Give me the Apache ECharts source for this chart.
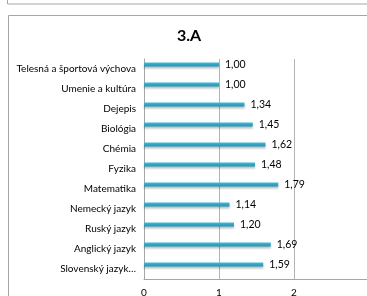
<!DOCTYPE html>
<html>
<head>
<meta charset="utf-8">
<script src="https://cdn.jsdelivr.net/npm/echarts@6/dist/echarts.min.js"></script>
<style>
  html, body { margin: 0; padding: 0; background: #fff; }
  #chart { width: 367px; height: 296px; }
</style>
</head>
<body>
<div id="chart"></div>
<script>
// predmety odspodu nahor (poradie kategórií v osi)
const subjects = ['Slovenský jazyk…', 'Anglický jazyk', 'Ruský jazyk', 'Nemecký jazyk', 'Matematika',
  'Fyzika', 'Chémia', 'Biológia', 'Dejepis', 'Umenie a kultúra', 'Telesná a športová výchova']
const grades = [1.59, 1.69, 1.20, 1.14, 1.79, 1.48, 1.62, 1.45, 1.34, 1.00, 1.00]
const xTicks = [0, 1, 2, 3]

const myChart = echarts.init(document.getElementById('chart'))
const font = 'Lato, "Open Sans", sans-serif'

const option = {
  animation: false,
  title: {
    text: '3.A',
    left: 184, top: 23, textAlign: 'center',
    textStyle: { fontFamily: font, fontSize: 16, fontWeight: 'bold', color: '#000' }
  },
  graphic: [
    // rámik predchádzajúceho grafu a rámik tohto grafu
    { type: 'rect', shape: { x: 7.5, y: -10, width: 400, height: 14 }, style: { fill: 'none', stroke: '#a6a6a6', lineWidth: 1 } },
    { type: 'rect', shape: { x: 8.5, y: 15.5, width: 400, height: 300 }, style: { fill: 'none', stroke: '#a6a6a6', lineWidth: 1 } }
  ],
  grid: { left: 144, top: 59, width: 225, height: 220, outerBoundsMode: 'none' },
  xAxis: {
    type: 'value', min: 0, max: xTicks[xTicks.length - 1], interval: 1,
    axisLine: { show: true, lineStyle: { color: '#a6a6a6' } },
    axisTick: { show: false },
    axisLabel: { margin: 9, fontFamily: font, fontSize: 10, color: '#000', showMaxLabel: false },
    splitLine: { show: true, lineStyle: { color: '#b4b4b4', width: 1 } }
  },
  yAxis: {
    type: 'category', data: subjects,
    axisLine: { show: true, lineStyle: { color: '#a6a6a6' } },
    axisTick: { show: false },
    axisLabel: { margin: 8, fontFamily: font, fontSize: 10, color: '#000' }
  },
  series: [
    {
      type: 'bar', data: grades, barWidth: 4, barGap: '130%',
      itemStyle: {
        color: new echarts.graphic.LinearGradient(0, 0, 0, 1, [
          { offset: 0, color: '#45bad8' },
          { offset: 1, color: '#1f93b6' }
        ]),
        shadowColor: 'rgba(0,0,0,0.25)', shadowBlur: 2, shadowOffsetY: 2
      },
      label: {
        show: true, position: 'right', distance: 6,
        fontFamily: font, fontSize: 10.5, color: '#000',
        formatter: p => p.value.toFixed(2).replace('.', ',')
      }
    },
    {
      type: 'bar', data: grades.map(() => '-'), barWidth: 4, barGap: '130%'
    }
  ]
}
myChart.setOption(option)
</script>
</body>
</html>
